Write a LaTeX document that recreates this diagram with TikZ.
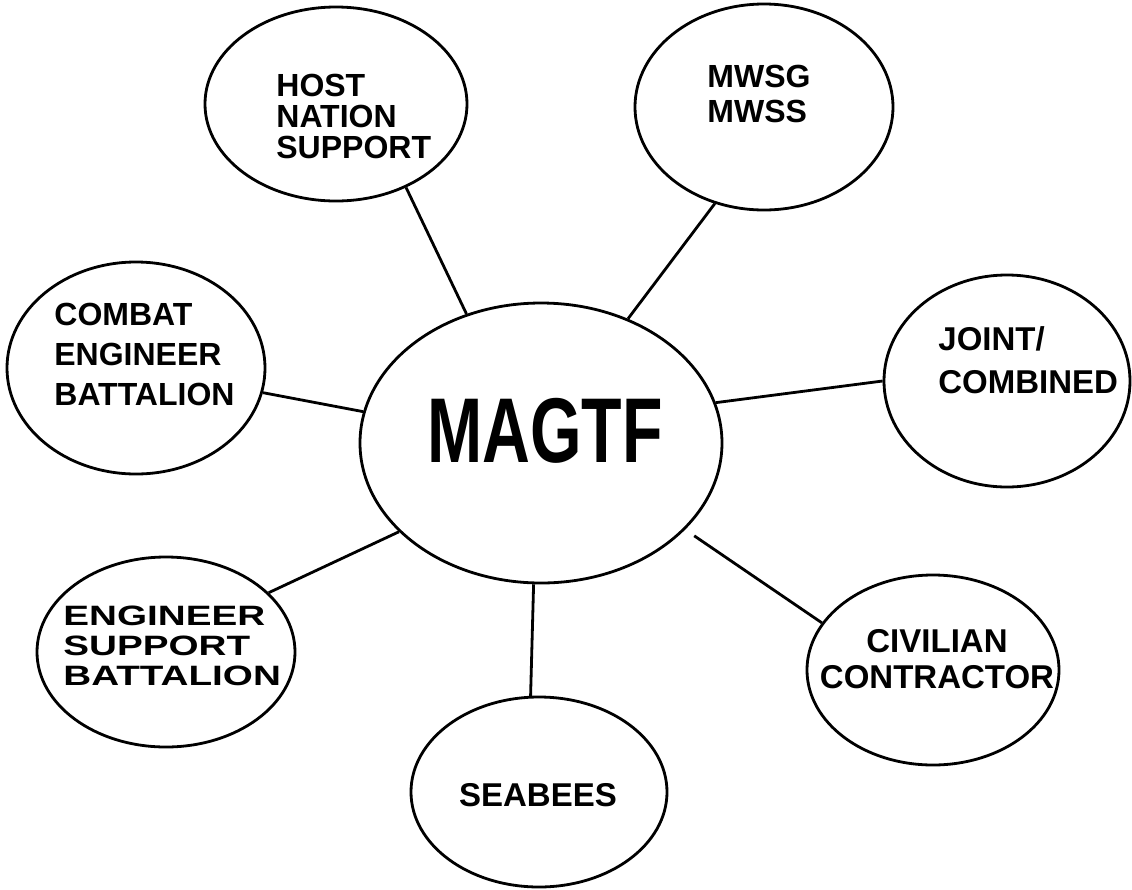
\documentclass[tikz,border=0pt]{standalone}
\usepackage{fontspec}
\setmainfont{Liberation Sans}
\newfontfamily\extfont[FakeStretch=1.38]{Liberation Sans}
\newfontfamily\condfont[FakeStretch=0.72]{Liberation Sans}
\usetikzlibrary{shapes.geometric}
\begin{document}
\begin{tikzpicture}[x=0.5pt,y=-0.5pt,line width=1.4pt,
  bubble/.style={draw,ellipse,inner sep=0pt},
  lbl/.style={inner sep=0pt}]
\useasboundingbox (0,0) rectangle (1132,890);
% ellipses (minimum width/height in pt = radius in px)
\node[bubble,minimum width=181pt,minimum height=140pt] (magtf) at (541,443) {};
\node[bubble,minimum width=131pt,minimum height=97pt] (host) at (336,104) {};
\node[bubble,minimum width=129pt,minimum height=103pt] (mwsg) at (764,107) {};
\node[bubble,minimum width=129pt,minimum height=106pt] (ceb) at (136,368) {};
\node[bubble,minimum width=123pt,minimum height=106pt] (joint) at (1007,381) {};
\node[bubble,minimum width=129pt,minimum height=95pt] (esb) at (166,652) {};
\node[bubble,minimum width=128pt,minimum height=95pt] (seabees) at (539,792) {};
\node[bubble,minimum width=126pt,minimum height=95pt] (civ) at (933,670) {};
% labels
\node[lbl,anchor=north west,align=left,font=\bfseries\fontsize{16}{15.5}\selectfont] (thost) at (275,73) {HOST\\NATION\\SUPPORT};
\node[lbl,anchor=north west,align=left,font=\bfseries\fontsize{16}{17.5}\selectfont] (tmwsg) at (706,64) {MWSG\\MWSS};
\node[lbl,anchor=north west,align=left,font=\bfseries\fontsize{16}{20}\selectfont] (tceb) at (53,302) {COMBAT\\ENGINEER\\BATTALION};
\node[lbl,anchor=north west,align=left,font=\bfseries\fontsize{16.5}{21.5}\selectfont] (tjoint) at (937,325) {JOINT/\\COMBINED};
\node[lbl,anchor=north west,align=left,font=\extfont\bfseries\fontsize{14}{15}\selectfont] (tesb) at (62,605) {ENGINEER\\SUPPORT\\BATTALION};
\node[lbl,anchor=north,align=center,font=\bfseries\fontsize{16.5}{18}\selectfont] (tciv) at (937,628) {CIVILIAN\\CONTRACTOR};
\node[lbl,anchor=base,font=\bfseries\fontsize{16.5}{18}\selectfont] (tsea) at (538,806) {SEABEES};
\node[lbl,font=\condfont\bfseries\fontsize{46}{50}\selectfont] (tmagtf) at (545,431) {MAGTF};
% connectors
\draw (magtf.120.8) -- (host.-50.6);
\draw (magtf.55.5) -- (mwsg.-117);
\draw (magtf.170) -- (ceb.-11.1);
\draw (magtf.13.1) -- (joint.180);
\draw (magtf.-148.1) -- (esb.30.7);
\draw (magtf.-93.7) -- (seabees.95.2);
\draw[shorten <=5.5pt] (magtf.-31.6) -- (civ.157.8);
\end{tikzpicture}
\end{document}
